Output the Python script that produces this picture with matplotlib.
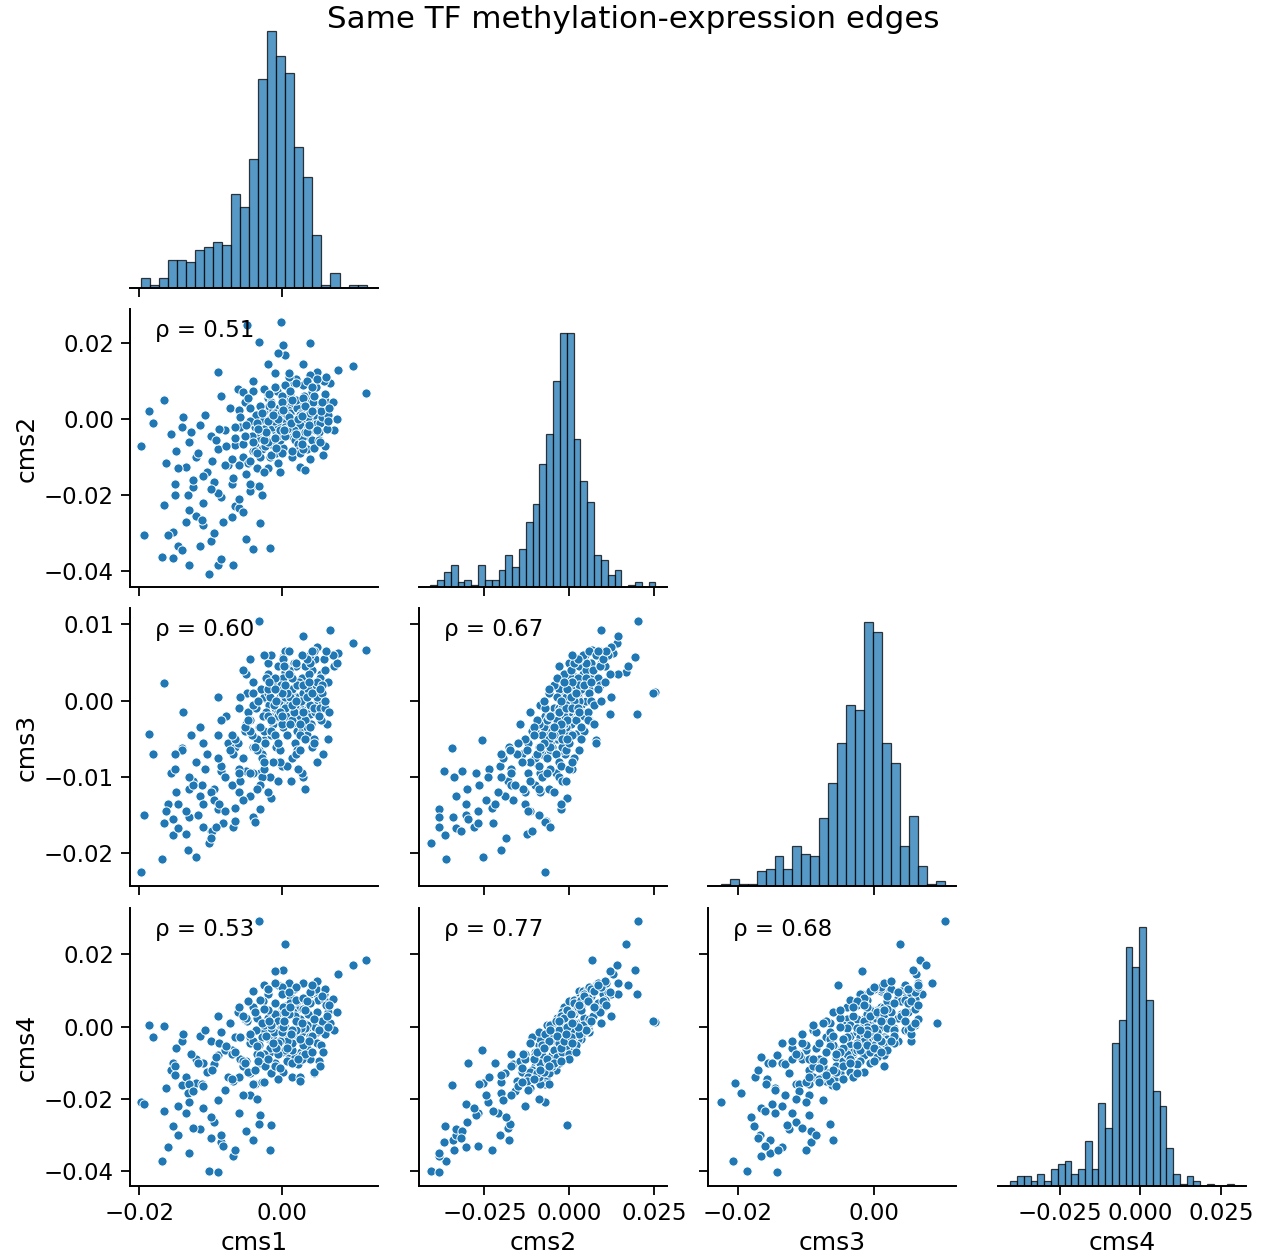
import matplotlib
matplotlib.use("Agg")
import matplotlib.pyplot as plt
import numpy as np

plt.rcParams["font.family"] = ["DejaVu Sans"]

# variable names
var_names = ["cms1", "cms2", "cms3", "cms4"]

# scatter samples, values in units of 1e-3
cms1_milli = [
    # outliers
    -0.1, -3.2, 11.8, 10.0, 7.9, -4.9, 0.1, 3.9, -19.8, -19.3, -18.7, -18.1, -16.5,
    # low tail
    -10.2, -16.8, -9.0, -6.9, -1.6, -4.1, -15.2, -14.5, -11.5, -15.3, -5.0, -12.0, -13.0, -8.5,
    -14.0, -7.0, -10.0, -16.0, -13.5, -9.5, -6.5, -3.0, -11.0, -6.5, -3.8, -3.0, -1.5, -4.0,
    # high side
    -1.0, -2.5, 0.5, 6.8, 3.0, 5.0,
    # middle
    -15.5, -14.8, -14.0, -13.5, -13.0, -12.5, -12.0, -11.5, -11.0, -10.5,
    -10.0, -9.5, -9.0, -8.5, -8.0, -7.5, -7.0, -6.5, -6.0, -5.5,
    -5.0, -4.5, -4.0, -3.5, -13.8, -12.8, -11.8, -10.8, -9.8, -8.8,
    -7.8, -6.8, -5.8, -4.8, -16.2, -15.0, -11.2, -8.2, -13.2, -9.2,
    -3.2, -2.8, -7.2, -5.2, -8.6, -6.2, -9.0, -4.0, -2.0, -0.5,
    # core
    0.0, 1.0, 2.0, 3.0, 4.0, 5.0, -1.0, -2.0, -3.0, 0.5,
    1.5, 2.5, 3.5, 4.5, -0.5, -1.5, -2.5, -3.5, 0.2, 1.2,
    2.2, 3.2, 4.2, 5.2, -0.8, -1.8, -2.8, 0.8, 1.8, 2.8,
    3.8, 4.8, -0.2, -1.2, -2.2, -3.2, 0.3, 1.3, 2.3, 3.3,
    4.3, -0.7, -1.7, -2.7, 0.7, 1.7, 2.7, 3.7, 4.7, 5.5,
    -0.3, -1.3, -2.3, -3.8, 0.1, 1.1, 2.1, 3.1, 4.1, 5.1,
    -0.9, -1.9, -2.9, 0.6, 1.6, 2.6, 3.6, 4.6, -0.4, -1.4,
    0.0, 1.0, 2.0, 3.0, 4.0, -1.0, -2.0, 0.4, 1.4, 2.4,
    3.4, 4.4, -0.6, -1.6, 0.9, 1.9, 2.9, 3.9, 4.9, 5.3,
    -0.1, 0.5, 1.5, 2.5, 3.5, 4.5, -0.5, -2.5, 0.2, 1.2,
    2.2, 3.2, -1.1, 0.7, 1.7, 2.7, 3.7, -0.2, 5.4, 5.6,
    -3.6, -4.2, -4.5, 6.0, 6.5, 7.3, 7.8, 7.2, 5.9, 4.0,
    2.0, 0.5, -1.0, 3.0, 1.0, -2.0, 3.5, 1.5, -0.5, 4.5,
    2.5, -1.5, 0.0, 2.0, 4.2,
    # core, wider spread
    -6.0, -4.5, -3.0, -1.5, 0.0, 1.5, 3.0, 4.5, 6.0, -5.5,
    -4.0, -2.5, -1.0, 0.5, 2.0, 3.5, 5.0, 6.3, -6.5, -5.0,
    -3.5, -2.0, -0.5, 1.0, 2.5, 4.0, 5.5, -6.0, -4.5, -3.0,
    -1.5, 0.0, 1.5, 3.0, 4.5, 6.0, -5.5, -4.0, -2.5, -1.0,
    0.5, 2.0, 3.5, 5.0, 6.2, 1.0, -2.0, 2.5, -0.5, 4.0,
    5.8, -3.8, -0.8, 2.8, 5.2, -5.2, -2.2, 0.8, 3.8, 6.5,
    -5.8, -2.8, 0.2, 3.2, 5.7, -4.8, -1.8, 1.2, 4.2, 6.6,
    -0.3, 3.3, 1.3, 2.3, -1.3, 4.3, -3.3, 5.3, 0.3, 2.9,
    # lower middle
    -12.5, -9.0, -14.5, -6.0, -11.0, -4.5, -16.5, -8.0, -13.0, -2.5,
    -10.0, -7.0, -5.5, -15.0, -3.5,
]
cms2_milli = [
    25.5, 20.3, 6.8, 14.0, 13.0, 24.8, 19.4, 20.0, -7.2, -30.5, 2.0, -1.1, 5.1,
    -40.8, -36.3, -38.4, -38.3, -34.0, -34.2, -36.5, -33.5, -33.5, -29.7, -31.5, -25.4, -38.4, -36.8,
    -34.6, -25.8, -32.0, -30.5, -27.0, -30.0, -22.8, -27.5, -28.0, -6.9, -7.2, -2.4, -0.7, -17.6,
    12.0, 8.0, 16.8, 9.5, 14.5, 12.5,
    -4.0, -8.5, -2.0, -12.5, -6.0, -18.0, -10.0, -1.5, -22.0, -14.0,
    -4.5, -16.5, -8.0, -20.5, -3.0, -12.0, -17.0, -5.0, -23.5, -10.0,
    -14.5, -19.0, -8.5, -13.0, 0.5, -3.5, -9.0, 1.0, -11.0, -2.5,
    -7.0, -15.5, -2.0, -11.5, -11.5, -17.0, -26.5, -27.0, -20.0, -5.5,
    -17.5, -20.0, 3.0, 4.5, 6.0, 8.0, 12.3, 10.0, 14.5, 17.5,
    0.0, -2.0, 1.5, -1.0, 3.0, 0.5, -3.0, -1.5, -5.0, 4.0,
    -4.5, 2.5, 5.5, -2.5, 1.0, -6.5, 2.0, -3.5, -7.5, 6.5,
    -0.5, 0.0, 7.0, -3.5, -9.0, 3.5, -8.0, 2.0, -5.5, 4.5,
    1.0, 8.5, -2.5, 0.5, -4.0, -1.0, 5.0, -1.5, -6.5, 3.0,
    -0.5, 7.5, -10.0, 0.0, -3.5, 9.5, -2.0, -4.5, 2.0, 4.0,
    -5.5, 2.5, -7.0, -2.0, 0.5, 3.5, -8.5, 6.0, -1.5, 1.5,
    -1.0, 5.5, -3.0, -1.0, 1.0, 0.0, 2.5, -3.0, 3.0, -2.0,
    -4.0, 0.5, -3.0, 2.0, 0.0, 1.5, -6.0, -0.5, -2.5, 1.0,
    -1.0, 4.5, -1.5, 0.0, 2.5, -1.0, -5.0, 1.5, -1.0, 2.5,
    1.5, -2.0, -0.5, -1.5, -2.5, 1.0, -4.5, -2.5, 3.5, 1.5,
    3.0, -3.5, -0.5, 1.0, -3.0, 1.5, 0.5, -3.0, -1.0, 0.5,
    1.0, -4.5, -0.5, 5.0, 1.0, -3.0, 0.0, 4.6, 9.9, 11.5,
    10.5, 9.0, 8.5, 9.0, 11.0, 6.5, -8.0, -10.0, -11.5, -6.0,
    -9.0, 4.5, 6.0, 5.0, -5.5,
    -12.0, -11.0, -10.0, -9.5, -9.0, -8.5, -8.0, -7.5, -7.0, -6.5,
    -6.0, -5.5, -5.0, -4.5, -4.0, -3.5, -3.0, -2.5, -2.0, -1.5,
    -1.0, -0.5, 0.0, 0.5, 1.0, 1.5, 2.0, 2.5, 3.0, 3.5,
    4.0, 4.5, 5.0, 5.5, 6.0, 6.5, 7.0, 7.5, 8.0, 8.5,
    9.0, 9.5, 10.0, 10.5, 11.0, 12.0, -13.0, -12.5, -11.5, -10.5,
    -9.5, -8.5, -7.5, -6.5, -5.5, -4.5, -3.5, -2.5, -1.5, -0.5,
    0.5, 1.5, 2.5, 3.5, 4.5, 5.5, 6.5, 7.5, 8.5, 3.0,
    -14.0, -13.5, -1.0, 0.0, 1.0, 2.0, -2.5, -6.0, -3.0, 0.8,
    -16.0, -19.5, -13.0, -21.0, -15.0, -17.0, -22.5, -12.0, -24.0, -14.0,
    -18.5, -10.5, -24.5, -20.0, -9.0,
]
cms3_milli = [
    1.2, 10.4, 6.7, 7.6, 6.2, 1.0, 5.7, -1.7, -22.4, -14.9, -4.4, -7.0, 2.3,
    -18.6, -20.7, -14.2, -16.5, -10.0, -15.2, -17.6, -16.7, -12.5, -15.5, -9.2, -20.4, -15.2, -9.2,
    -6.2, -5.2, -17.0, -13.5, -14.5, -11.5, -14.0, -9.5, -16.5, -15.7, -15.9, -14.2, -12.8, -6.0,
    -1.7, -5.2, 3.8, 9.3, 8.5, 7.0,
    -9.5, -12.0, -6.5, -17.5, -11.5, -10.5, -8.0, -3.5, -13.5, -7.0,
    -12.0, -13.0, -4.5, -8.5, -10.0, -5.5, -11.0, -6.0, -9.0, -7.5,
    -3.0, -12.5, -9.5, -5.0, -1.5, -4.5, -15.0, -9.0, -17.0, -13.5,
    -2.0, -7.0, -10.5, -1.5, -14.5, -9.0, -11.0, -16.0, -19.5, -16.5,
    -6.5, -10.0, -6.5, -4.0, -2.5, -5.5, 0.5, 2.5, 3.5, 4.5,
    -0.5, -1.5, 0.5, -2.0, 1.0, 0.0, -2.5, 0.0, -3.5, 2.0,
    -3.0, -1.0, 2.5, -0.5, 1.5, -4.5, 0.5, -5.0, -3.5, 3.5,
    -4.0, 2.0, 4.0, -2.0, -6.0, -0.5, -7.0, -2.5, -5.5, 3.0,
    3.5, 2.5, 0.5, -3.0, -1.5, -3.5, 0.0, 1.0, -2.5, 4.5,
    1.5, 2.5, -4.0, -2.0, -4.5, 5.0, -0.5, -1.0, 5.5, 3.5,
    -6.5, 2.0, -5.5, -6.0, 3.0, -1.5, -6.5, 1.5, -3.0, 2.0,
    -1.0, 1.0, 1.5, -2.0, 0.0, -1.5, 0.5, -1.5, 0.0, -2.5,
    -3.0, -0.5, -1.0, 1.0, -0.5, -1.0, -2.0, 0.5, -2.5, 2.5,
    0.0, 2.0, -1.5, 0.5, 1.0, -0.5, -4.0, -0.5, 0.5, 3.0,
    2.0, -1.0, 1.5, -2.0, -3.5, -1.0, -2.0, -4.0, 1.5, 0.5,
    2.0, -2.5, -0.5, 1.0, -1.5, 0.0, 1.5, -1.5, -1.0, 1.0,
    -1.0, -4.5, -2.5, 4.0, 2.5, 4.5, 5.0, 6.0, 5.5, 6.0,
    4.5, 6.5, 3.0, 2.0, 6.5, 5.0, -4.5, -7.5, -8.0, -5.0,
    -3.0, -4.0, 1.0, 5.0, -6.0,
    -9.5, -4.0, -11.0, -2.5, -8.5, -0.5, -10.0, -5.5, -1.0, -7.5,
    1.0, -9.0, -4.5, 2.0, -7.0, 0.5, -8.0, -3.0, -5.0, 3.5,
    -6.5, 1.5, -5.5, 4.0, -4.5, 5.0, -2.5, -1.0, 5.5, -3.5,
    6.0, -2.0, 3.0, -1.5, 6.5, 0.0, 4.0, -0.5, 6.0, 1.5,
    4.5, 0.0, 5.5, 2.5, 6.5, 3.5, -12.0, -6.5, -10.5, -3.5,
    -7.0, -6.0, 0.0, -9.5, -2.0, -3.5, 3.0, -8.5, 2.5, -5.0,
    0.5, -7.5, 5.5, -5.0, 2.0, -2.5, 2.5, -3.0, 6.5, -1.5,
    -8.0, -11.5, -10.5, -9.0, -8.0, 1.0, 0.0, 1.5, 4.5, 6.0,
    -11.0, -7.5, -13.5, -12.0, -5.5, -9.5, -16.0, -14.5, -10.0, -8.0,
    -18.0, -4.5, -13.0, -7.0, -11.5,
]
cms4_milli = [
    1.3, 29.3, 18.5, 17.0, 14.5, 1.6, 15.7, 9.0, -20.8, -21.5, 0.5, -3.0, 0.2,
    -40.1, -37.2, -40.4, -36.0, -34.2, -31.5, -27.7, -30.0, -28.5, -10.0, -29.0, -15.6, -35.0, -32.0,
    -16.3, -6.5, -31.0, -33.5, -24.0, -26.5, -34.2, -24.5, -22.5, -14.5, -16.0, -8.0, -27.2, -31.5,
    15.5, 11.4, 22.9, 1.0, 12.0, 9.0,
    -12.0, -6.0, -4.0, -14.0, -16.0, -28.0, -9.0, -2.5, -10.0, -12.5,
    -4.0, -10.5, -8.0, -30.0, -6.5, -14.0, -7.5, -3.0, -14.0, -11.0,
    -9.5, -13.0, -16.0, -7.5, -2.0, -7.5, -10.0, -1.0, -12.0, -4.5,
    -5.5, -15.0, -9.0, -12.5, -17.0, -11.0, -16.0, -33.0, -18.5, -8.5,
    -27.0, -15.5, 1.0, 2.0, -1.5, 4.0, 3.0, 5.5, 9.0, 11.5,
    5.0, -8.0, 4.5, -5.0, 10.0, -1.5, -10.0, 2.5, -10.0, 10.0,
    -6.5, 7.5, -0.5, 0.5, -3.0, 0.5, -1.0, 2.5, -12.5, 8.5,
    5.5, -5.0, 10.0, -9.5, -5.0, -3.5, -3.0, 6.0, -8.5, -1.5,
    -4.0, 10.5, 3.5, -6.5, 1.0, -5.0, -1.0, 5.5, -10.5, 8.0,
    -3.5, 3.5, -7.0, 7.0, -9.5, 10.5, -7.0, 0.5, -4.0, 8.0,
    -1.5, -3.5, -11.0, 4.0, -4.5, 6.5, -3.5, 1.0, -7.5, 7.5,
    1.0, 10.5, -8.0, -4.0, 4.0, 2.0, -0.5, 0.0, -1.0, 2.0,
    -7.0, 4.5, -1.0, 0.0, -3.0, 3.5, -3.0, -2.5, -6.5, 0.0,
    -5.0, 2.5, 1.5, -6.0, 4.5, 3.0, -8.0, -2.5, 4.0, -0.5,
    -0.5, 0.0, -4.5, -0.5, 0.5, -4.0, -6.5, -7.5, 5.5, -1.5,
    7.0, -0.5, -1.5, -4.0, -2.0, -0.5, 3.5, -4.0, -5.0, 1.5,
    -1.0, -3.5, -4.5, 7.0, 4.0, -1.0, 4.0, 7.6, 8.9, 9.5,
    7.5, 11.0, 6.5, 5.0, 12.0, 10.5, -6.0, -14.0, -14.5, -13.0,
    -14.0, -0.5, 11.0, -1.0, -2.5,
    -14.0, -3.0, -8.0, -13.0, -1.5, -10.0, -5.0, -12.5, -2.0, -9.5,
    -4.0, 0.5, -11.0, -6.5, 1.5, -8.5, -4.5, 3.0, -7.0, 2.5,
    -5.5, 4.5, -7.5, 3.5, -3.5, 6.5, -5.0, 5.5, -2.0, 7.5,
    0.5, 9.0, -1.0, 8.0, 2.0, 10.5, 3.0, 10.0, 5.0, 12.0,
    4.0, 11.0, 7.0, 12.5, 6.0, 9.5, -9.0, -15.0, -4.5, -9.0,
    -7.0, -12.0, -6.0, -9.0, -1.0, -10.0, -2.5, -6.0, -4.0, 0.0,
    -3.0, 1.0, 0.0, 4.5, 8.5, 7.0, 1.5, 5.5, 11.5, 6.0,
    -11.5, -7.5, -2.0, -9.0, -4.5, -7.0, -9.5, -11.0, 1.5, 1.0,
    -18.0, -20.5, -22.0, -24.0, -16.5, -19.0, -23.5, -17.5, -21.0, -15.5,
    -25.0, -14.5, -19.0, -13.5, -20.0,
]

# diagonal histogram counts
cms1_counts = [4, 1, 4, 11, 11, 10, 15, 16, 18, 17, 37, 32, 51, 83, 102, 92, 85, 56, 44, 21, 1, 6, 0, 1, 1]
cms2_counts = [1, 3, 6, 9, 2, 3, 1, 9, 3, 3, 7, 13, 8, 15, 26, 33, 49, 61, 82, 101, 101, 59, 42, 34,
               13, 11, 5, 7, 0, 1, 2, 0, 2]
cms3_counts = [1, 3, 1, 1, 6, 7, 12, 7, 16, 13, 12, 27, 41, 57, 72, 70, 105, 101, 57, 49, 16, 28, 8, 1, 2]
cms4_counts = [2, 4, 4, 2, 5, 2, 7, 9, 10, 5, 7, 18, 7, 33, 23, 57, 66, 95, 87, 103, 74, 38, 32, 15,
               5, 1, 4, 2, 0, 1, 0, 0, 1]
# data range covered by the histogram bins
hist_ranges = [(-0.01976, 0.01190), (-0.04095, 0.02549), (-0.02249, 0.01046), (-0.0405, 0.02913)]

rho_labels = {(1, 0): "0.51", (2, 0): "0.60", (2, 1): "0.67",
              (3, 0): "0.53", (3, 1): "0.77", (3, 2): "0.68"}

# axis limits and ticks per variable
limits = [(-0.02130, 0.01350), (-0.0443, 0.0289), (-0.0243, 0.0121), (-0.0443, 0.0328)]
xticks = [[-0.02, 0.0], [-0.025, 0.0, 0.025], [-0.02, 0.0], [-0.025, 0.0, 0.025]]
yticks = [[], [-0.04, -0.02, 0.0, 0.02], [-0.02, -0.01, 0.0, 0.01], [-0.04, -0.02, 0.0, 0.02]]

data = [np.array(v) / 1000.0 for v in (cms1_milli, cms2_milli, cms3_milli, cms4_milli)]
counts = [cms1_counts, cms2_counts, cms3_counts, cms4_counts]

COLOR = "#1f77b4"
W, H = 1263, 1256
fig = plt.figure(figsize=(W / 100, H / 100), dpi=100)

lefts = [130, 419, 708.3, 998]
tops = [9.7, 309.3, 608.3, 908.3]
aw, ah = 248, 278

for i in range(4):
    for j in range(i + 1):
        ax = fig.add_axes([lefts[j] / W, 1 - (tops[i] + ah) / H, aw / W, ah / H])
        for side in ["top", "right"]:
            ax.spines[side].set_visible(False)
        for side in ["left", "bottom"]:
            ax.spines[side].set_linewidth(1.4)
        ax.tick_params(length=6.5, width=1.3, labelsize=16.5, pad=5)
        ax.set_xlim(limits[j])
        ax.set_xticks(xticks[j])

        if i == j:
            lo, hi = hist_ranges[i]
            edges = np.linspace(lo, hi, len(counts[i]) + 1)
            ax.bar(edges[:-1], counts[i], width=np.diff(edges), align="edge",
                   color=COLOR, alpha=0.75, edgecolor="black", linewidth=0.9)
            ax.set_ylim(0, 110.3)
            ax.spines["left"].set_visible(False)
            ax.set_yticks([])
        else:
            ax.scatter(data[j], data[i], s=44, color=COLOR, edgecolor="white",
                       linewidth=0.7, zorder=3)
            ax.set_ylim(limits[i])
            ax.set_yticks(yticks[i])
            ax.text(0.1, 0.9, "\u03c1 = " + rho_labels[(i, j)], transform=ax.transAxes,
                    fontsize=16.5, zorder=4)

        if j == 0 and i > 0:
            ax.set_ylabel(var_names[i], fontsize=18)
        else:
            ax.tick_params(axis="y", labelleft=False)
        if i == 3:
            ax.set_xlabel(var_names[j], fontsize=18)
        else:
            ax.tick_params(axis="x", labelbottom=False)

fig.suptitle("Same TF methylation-expression edges", fontsize=22.3, x=0.5015, y=0.996, va="top")

fig.savefig("out.png", dpi=100)
